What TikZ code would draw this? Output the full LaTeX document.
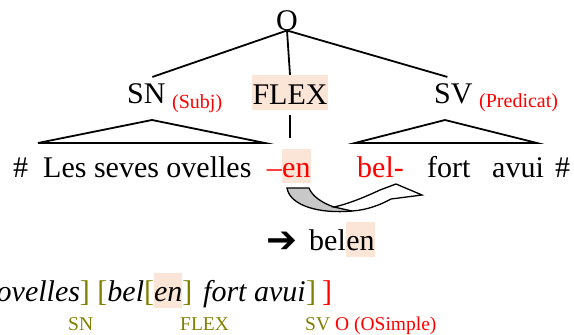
\documentclass[tikz,border=0pt]{standalone}
\usepackage{fontspec}
\setmainfont{Liberation Serif}
\newfontfamily\djv{DejaVu Sans}
\usetikzlibrary{calc}
\definecolor{hl}{RGB}{251,229,214}
\definecolor{olv}{RGB}{128,128,0}
\definecolor{arrgray}{RGB}{200,200,200}
\setlength{\fboxsep}{0pt}
\begin{document}
\begin{tikzpicture}[x=1pt,y=-1pt,
  big/.style={font=\fontsize{30}{36}\selectfont, inner sep=0pt},
  lbl/.style={font=\fontsize{20}{24}\selectfont, inner sep=0pt, text=red},
  lbltwo/.style={font=\fontsize{19.5}{24}\selectfont, inner sep=0pt},
  edge/.style={line width=1.8pt},
  hlbox/.style={fill=hl, text height=28pt, text depth=6pt}
]
\useasboundingbox (0,0) rectangle (574,335);
% tree labels
\node[big, anchor=base] (O) at (287,30) {O};
\node[big, anchor=base west] (SN) at (127,103) {SN};
\node[lbl, anchor=base west] (subj) at (172,108) {(Subj)};
\node[big, anchor=base, fill=hl, inner xsep=0.5pt, text height=29pt, text depth=6pt] (FLEX) at (290,104) {FLEX};
\node[big, anchor=base west] (SV) at (434,103) {SV};
\node[lbl, anchor=base west] (pred) at (479,107) {(Predicat)};
% words
\node[big, anchor=base west] (h1) at (13,177) {\#};
\node[big, anchor=base west] (les) at (43,177) {Les seves ovelles};
\node[big, anchor=base west, hlbox, text=red] (en) at (282,177) {en};
\node[big, anchor=base east, text=red] (dash) at (en.base west) {–};
\node[big, anchor=base west, text=red] (bel) at (357,177) {bel-};
\node[big, anchor=base west] (fort) at (427,177) {fort};
\node[big, anchor=base west] (avui) at (492,177) {avui};
\node[big, anchor=base west] (h2) at (555,177) {\#};
% tree edges
\draw[edge] (O.south) -- ([shift={(6pt,6pt)}]SN.north);
\draw[edge] (O.south) -- (FLEX.north);
\draw[edge] (O.south) -- ([shift={(-6pt,6pt)}]SV.north);
\draw[edge] ([yshift=-5pt]FLEX.south) -- ($(FLEX.south |- en.north)+(0,-11)$);
\draw[edge] (38,143) -- (152,120) -- (265,143) -- cycle;
\draw[edge] (355,143) -- (445,120) -- (537,143) -- cycle;
% curved block arrow
\fill[arrgray] (287,188) .. controls (290,206) and (320,214) .. (352,211) -- (334,207) .. controls (322,203) and (312,196) .. (309,188) -- cycle;
\draw[line width=1.3pt, fill=white, line join=miter] (352,211) .. controls (367,210) and (380,205) .. (391,199) -- (422,195) -- (396,184) -- (380,190) .. controls (365,197) and (348,204) .. (334,207) -- cycle;
\draw[line width=1.3pt] (334,207) .. controls (322,203) and (312,196) .. (309,188) -- (287,188) .. controls (290,206) and (320,214) .. (352,211);
% result
\node[font=\djv\fontsize{37}{40}\selectfont, inner sep=0pt, anchor=base east] (arr) at (298,252) {➔};
\node[big, anchor=base west] (belen) at (309,250) {bel};
\node[big, anchor=base west, fill=hl, text height=28pt, text depth=7pt] (belenen) at (belen.base east) {en};
% bracketed line
\node[big, anchor=base west] (brline) at (-3.5,301) {\textit{ovelles}\textcolor{olv}{]} \textcolor{olv}{[}\textit{bel}\textcolor{olv}{[}\colorbox{hl}{\rule[-7pt]{0pt}{35pt}\textit{en}}\textcolor{olv}{]}};
\node[big, anchor=base west] (fa) at (203,301) {\textit{fort avui}};
\node[big, anchor=base west, text=olv] (cb1) at (306,301) {]};
\node[big, anchor=base west, text=red] (cb2) at (322,301) {]};
\node[lbltwo, text=olv, anchor=base west] (bSN) at (68,330) {SN};
\node[lbltwo, text=olv, anchor=base west] (bFLEX) at (180,330) {FLEX};
\node[lbltwo, text=olv, anchor=base west] (bSV) at (305,330) {SV};
\node[lbltwo, text=red, anchor=base west] (bO) at (335,330) {O (OSimple)};
\end{tikzpicture}
\end{document}
